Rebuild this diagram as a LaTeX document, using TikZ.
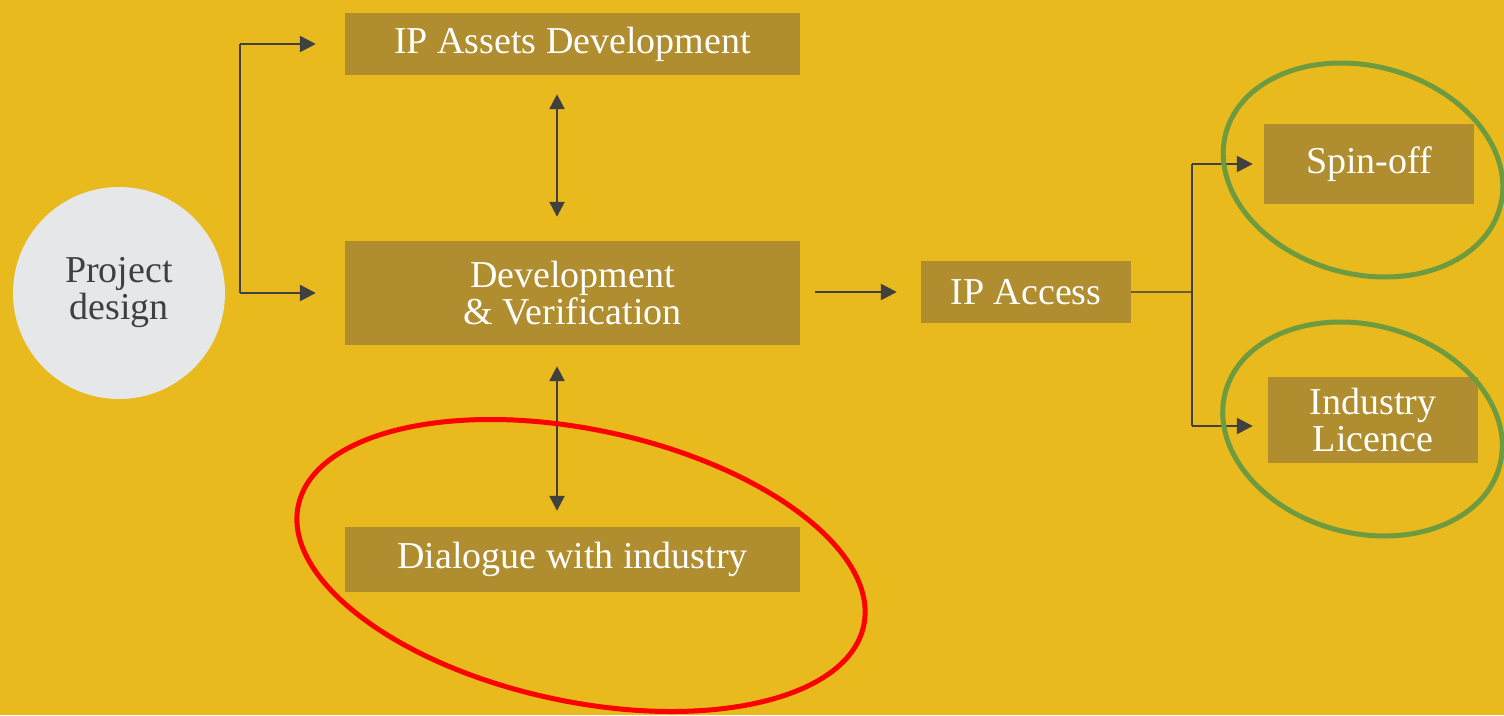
\documentclass[tikz,border=0pt]{standalone}
\usepackage{fontspec}
\setmainfont{Liberation Serif}
\usetikzlibrary{arrows.meta,calc}
\definecolor{bgc}{HTML}{E8BA1E}
\definecolor{boxc}{HTML}{B08D2E}
\definecolor{circc}{HTML}{E6E7E8}
\definecolor{darkc}{HTML}{404040}
\definecolor{olivec}{HTML}{6E5E2C}
\definecolor{greenc}{HTML}{6E9B40}
\definecolor{redc}{HTML}{FF0000}
\tikzset{
  stepbox/.style={rectangle, fill=boxc, text=white, inner sep=0pt, align=center,
    font=\fontsize{38}{37}\selectfont},
  arr/.style={draw=darkc, line width=2.5pt, -{Triangle[length=16pt,width=16pt]}},
  dbl/.style={draw=darkc, line width=2.5pt, {Triangle[length=15pt,width=15pt]}-{Triangle[length=15pt,width=15pt]}},
  thin/.style={draw=darkc, line width=1.6pt},
  ring/.style={line width=5pt}
}
\begin{document}
\begin{tikzpicture}[x=1pt,y=-1pt]
\useasboundingbox (0,0) rectangle (1504,715);
\fill[bgc] (0,0) rectangle (1504,715);

% nodes
\node[circle, fill=circc, minimum size=212pt, inner sep=0pt, align=center, text=darkc,
  font=\fontsize{38}{37}\selectfont] (pd) at (119,293) {Project\\design};
\node[stepbox, minimum width=455pt, minimum height=62pt] (ipad) at (572.5,44) {IP Assets Development};
\node[stepbox, minimum width=455pt, minimum height=104pt] (dev) at (572.5,293) {Development\\\& Verification};
\node[stepbox, minimum width=455pt, minimum height=65pt] (dial) at (572.5,559.5) {Dialogue with industry};
\node[stepbox, minimum width=210pt, minimum height=62pt] (ipac) at (1026,292) {IP Access};
\node[stepbox, minimum width=210pt, minimum height=80pt] (spin) at (1369,164) {Spin-off};
\node[stepbox, minimum width=210pt, minimum height=86pt] (lic) at (1373,420) {Industry\\Licence};

% helper coordinates
\coordinate (fork) at (240,293);
\coordinate (ax) at (557,0);
\coordinate (br) at (1192,292);

% connectors
\draw[thin] (fork) -- (fork |- ipad.west);
\draw[arr, shorten >=29pt] (fork |- ipad.west) -- (ipad.west);
\draw[arr, shorten >=29pt] (fork) -- (dev.west);
\draw[dbl, shorten <=19pt, shorten >=24pt] (ipad.south -| ax) -- (dev.north -| ax);
\draw[dbl, shorten <=21pt, shorten >=16pt] (dev.south -| ax) -- (dial.north -| ax);
\draw[arr, shorten <=15pt, shorten >=24pt] (dev.east |- ipac.west) -- (ipac.west);
\draw[draw=olivec, line width=1.6pt] (ipac.east) -- (br);
\coordinate (bt) at (br |- spin.west);
\coordinate (lt) at ($(lic.west)+(0,6)$);
\coordinate (bb) at (br |- lt);
\draw[thin] (bt) -- (bb);
\draw[arr, shorten >=11pt] (bt) -- (spin.west);
\draw[arr, shorten >=15pt] (bb) -- (lt);

% highlight ellipses
\draw[greenc, ring, rotate around={-15:(1363,170)}] (1363,170) ellipse [x radius=142pt, y radius=104pt];
\draw[greenc, ring, rotate around={-15:(1362.5,429)}] (1362.5,429) ellipse [x radius=142pt, y radius=104pt];
\draw[redc, ring, rotate around={-12:(581,565.5)}] (581,565.5) ellipse [x radius=289pt, y radius=136pt];
\end{tikzpicture}
\end{document}
